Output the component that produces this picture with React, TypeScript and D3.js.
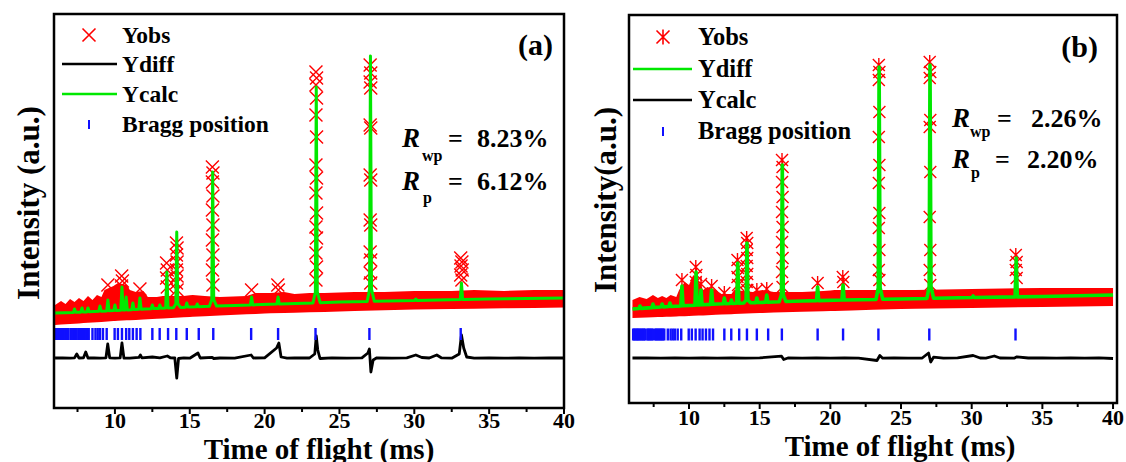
import React from 'react';
import * as d3 from 'd3';

// ---------- shared ----------
const braggTimes = [6.05, 6.12, 6.2, 6.28, 6.35, 6.42, 6.5, 6.58, 6.66, 6.75, 6.82, 6.9, 7.05, 7.12, 7.2, 7.28, 7.36, 7.45, 7.6, 7.68, 7.76, 7.84, 7.92, 8.0, 8.08, 8.16, 8.25, 8.5, 8.7, 8.85, 9.0, 9.2, 9.45, 9.98, 10.2, 10.47, 10.75, 10.96, 11.2, 11.45, 11.7, 12.5, 12.99, 13.55, 14.1, 14.8, 15.6, 16.57, 19.1, 20.9, 23.4, 27.0, 33.1];
const majorTicks = [10, 15, 20, 25, 30, 35, 40];
const minorTicks = [7.5, 12.5, 17.5, 22.5, 27.5, 32.5, 37.5];

// ---------- panel (a) ----------
const bgTimesA = [6, 8, 10, 12, 15, 18, 21, 25, 30, 35, 40];
const bgCalcA = [950, 960, 975, 990, 1010, 1025, 1040, 1060, 1075, 1090, 1100];
const peakTimesA = [7.3, 7.8, 8.2, 9.0, 9.53, 10.0, 10.47, 10.75, 11.2, 11.67, 12.5, 13.0, 13.47, 14.13, 14.8, 15.5, 16.53, 19.13, 20.9, 23.45, 27.07, 30.1, 33.15];
const peakCalcA = [990, 1000, 1000, 1020, 1080, 1030, 1210, 1110, 1050, 1100, 1030, 1030, 1360, 1760, 1050, 1040, 2360, 1110, 1110, 3210, 3520, 1090, 1250];
const bandTopTimesA = [6.0, 6.4, 6.7, 7.0, 7.3, 7.6, 7.9, 8.2, 8.5, 8.8, 9.1, 9.3, 9.9, 10.2, 10.8, 11.0, 11.4, 11.9, 12.2, 12.8, 13.2, 14.6, 15.2, 16.0, 17.0, 18.8, 19.4, 20.4, 21.3, 22.0, 23.0, 24.0, 26.0, 28.0, 30.0, 32.5, 34.0, 36.0, 38.0, 40.0];
const bandTopA = [1030, 1070, 1040, 1090, 1060, 1100, 1070, 1120, 1080, 1130, 1110, 1180, 1220, 1250, 1230, 1180, 1160, 1170, 1110, 1110, 1120, 1120, 1130, 1120, 1110, 1120, 1150, 1150, 1160, 1140, 1150, 1150, 1160, 1160, 1170, 1170, 1180, 1170, 1180, 1180];
const bandBotTimesA = [6, 10, 15, 20, 25, 30, 35, 40];
const bandBotA = [830, 870, 910, 945, 965, 985, 995, 1005];
const obsTimesA = [10.45, 10.5, 10.44, 9.53, 11.67, 13.45, 13.5, 13.45, 13.5, 14.11, 14.15, 14.11, 14.15, 14.11, 14.15, 14.11, 14.15, 16.51, 16.55, 16.51, 16.55, 16.51, 16.55, 16.51, 16.55, 16.51, 16.55, 19.13, 20.88, 20.92, 23.43, 23.47, 23.43, 23.47, 23.43, 23.47, 23.43, 23.47, 23.43, 23.47, 23.43, 23.47, 23.43, 23.47, 23.43, 27.05, 27.09, 27.05, 27.09, 27.05, 27.09, 27.05, 27.09, 27.05, 27.09, 27.05, 27.09, 27.05, 27.09, 33.1, 33.18, 33.12, 33.2, 33.1, 33.18];
const obsValsA = [1320, 1270, 1220, 1230, 1190, 1450, 1380, 1300, 1210, 1650, 1600, 1530, 1460, 1380, 1320, 1250, 1180, 2410, 2350, 2260, 2120, 1980, 1830, 1680, 1530, 1380, 1230, 1180, 1230, 1180, 3360, 3300, 3230, 3100, 2930, 2710, 2430, 2300, 2150, 1950, 1810, 1700, 1550, 1410, 1280, 3430, 3350, 3260, 3200, 2830, 2800, 2330, 2280, 1880, 1830, 1560, 1480, 1350, 1250, 1500, 1460, 1420, 1380, 1330, 1280];
const diffTimesA = [6.0, 6.5, 7.0, 7.3, 7.45, 7.6, 7.9, 8.05, 8.2, 8.6, 9.0, 9.4, 9.52, 9.65, 10.0, 10.35, 10.47, 10.6, 11.0, 11.6, 11.7, 11.8, 12.5, 13.0, 13.5, 13.7, 14.0, 14.13, 14.25, 14.6, 15.0, 15.55, 15.7, 16.5, 16.6, 17.0, 18.0, 19.1, 19.25, 20.0, 20.8, 20.95, 21.1, 21.5, 22.0, 23.0, 23.35, 23.45, 23.55, 23.7, 24.5, 25.5, 26.5, 26.9, 27.0, 27.1, 27.25, 27.5, 28.5, 29.5, 30.1, 30.5, 31.0, 31.5, 31.8, 32.5, 33.0, 33.15, 33.3, 33.5, 34, 35, 36, 37, 38, 39, 40];
const diffValsA = [500, 502, 498, 501, 540, 500, 502, 560, 500, 502, 498, 502, 640, 502, 498, 502, 650, 500, 498, 506, 530, 502, 510, 502, 520, 502, 500, 300, 495, 502, 498, 550, 500, 506, 495, 500, 498, 530, 500, 502, 600, 650, 510, 498, 502, 500, 540, 720, 580, 495, 502, 498, 502, 550, 590, 360, 480, 502, 498, 502, 530, 505, 500, 530, 502, 498, 540, 730, 600, 510, 498, 502, 498, 502, 499, 502, 500];
const braggLevelA = 740;

// ---------- panel (b) ----------
const bgTimesB = [6, 8, 10, 12, 15, 18, 21, 25, 30, 35, 40];
const bgCalcB = [940, 960, 975, 990, 1005, 1020, 1030, 1040, 1055, 1065, 1080];
const peakTimesB = [6.53, 7.45, 8.1, 8.65, 9.5, 10.5, 10.85, 11.6, 12.5, 13.0, 13.45, 14.1, 14.8, 15.5, 16.6, 19.1, 20.9, 23.45, 27.05, 30.1, 33.15];
const peakCalcB = [970, 990, 990, 1000, 1170, 1310, 1130, 1130, 1050, 1030, 1400, 1600, 1050, 1080, 2380, 1160, 1180, 3360, 3380, 1070, 1450];
const bandTopTimesB = [6, 6.5, 7, 7.45, 7.8, 8.1, 8.4, 8.7, 9.1, 9.3, 9.7, 10.0, 10.3, 10.7, 11.0, 11.3, 11.9, 12.3, 13.0, 13.2, 14.5, 15.2, 16.0, 18.0, 19.5, 20.3, 21.5, 23.0, 26.0, 30.0, 35.0, 40.0];
const bandTopB = [1030, 1060, 1040, 1080, 1050, 1070, 1050, 1080, 1060, 1130, 1210, 1180, 1280, 1210, 1130, 1160, 1130, 1090, 1090, 1130, 1110, 1130, 1110, 1110, 1120, 1130, 1130, 1130, 1130, 1140, 1150, 1150];
const bandBotTimesB = [6, 10, 15, 20, 25, 30, 35, 40];
const bandBotB = [850, 870, 900, 920, 940, 950, 960, 970];
const obsTimesB = [9.5, 10.48, 10.52, 10.48, 10.85, 11.6, 12.5, 13.43, 13.47, 13.43, 13.47, 14.08, 14.12, 14.08, 14.12, 14.08, 14.12, 14.08, 14.12, 14.8, 15.5, 16.58, 16.62, 16.58, 16.62, 16.58, 16.62, 16.58, 16.62, 16.58, 16.62, 19.1, 20.88, 20.92, 23.43, 23.47, 23.43, 23.47, 23.43, 23.47, 23.43, 23.47, 23.43, 23.47, 23.43, 23.47, 27.03, 27.07, 27.03, 27.07, 27.03, 27.07, 27.03, 27.07, 27.03, 27.07, 33.12, 33.18, 33.12, 33.18];
const obsValsB = [1230, 1360, 1280, 1210, 1190, 1170, 1100, 1430, 1350, 1260, 1180, 1650, 1600, 1530, 1450, 1370, 1290, 1210, 1130, 1130, 1140, 2430, 2360, 2210, 2060, 1910, 1760, 1610, 1450, 1310, 1160, 1200, 1260, 1210, 3380, 3310, 3230, 2910, 2660, 2380, 2200, 1900, 1750, 1530, 1330, 1230, 3410, 3310, 3250, 2830, 2760, 2310, 1860, 1530, 1330, 1180, 1480, 1410, 1330, 1250];
const diffTimesB = [6, 7, 8, 9, 10, 11, 12, 13, 14, 15, 16.55, 16.7, 17, 18, 19, 20, 21, 22, 23.3, 23.5, 23.7, 24.5, 25.5, 26.5, 26.95, 27.1, 27.3, 28, 29, 30.1, 30.6, 31, 31.6, 32, 33, 33.2, 34, 35, 36, 37, 38, 39, 40];
const diffValsB = [450, 452, 448, 451, 449, 452, 448, 451, 449, 451, 468, 435, 450, 448, 451, 449, 451, 448, 425, 475, 448, 451, 448, 450, 500, 410, 458, 448, 451, 475, 450, 448, 470, 450, 448, 462, 450, 451, 448, 451, 448, 451, 445];
const braggLevelB = 685;

const RED = '#ff0000';
const GREEN = '#00e800';
const BLUE = '#1010ff';
const FONT = "'Liberation Serif', 'Times New Roman', serif";

type Pt = [number, number];

function calcPoints(bgT: number[], bgV: number[], pkT: number[], pkV: number[]): Pt[] {
  const bg = d3.scaleLinear().domain(bgT).range(bgV);
  const pts: Pt[] = [];
  const spans: [number, number][] = [];
  pkT.forEach((p, i) => {
    const T = pkV[i];
    const b0 = bg(p);
    if (T - b0 > 500) {
      pts.push([p - 0.22, bg(p - 0.22)], [p - 0.06, b0 + 0.05 * (T - b0)], [p, T], [p + 0.07, b0 + 0.05 * (T - b0)], [p + 0.26, bg(p + 0.26)]);
      spans.push([p - 0.22, p + 0.26]);
    } else {
      pts.push([p - 0.08, bg(p - 0.08)], [p, T], [p + 0.08, bg(p + 0.08)]);
      spans.push([p - 0.08, p + 0.08]);
    }
  });
  bgT.forEach((t, i) => {
    if (!spans.some(s => t >= s[0] && t <= s[1])) pts.push([t, bgV[i]]);
  });
  pts.sort((a, b) => a[0] - b[0]);
  return pts;
}

type PanelProps = {
  x0: number; x1: number; y0: number; y1: number;
  xDomain: [number, number]; yDomain: [number, number];
  bgT: number[]; bgV: number[]; pkT: number[]; pkV: number[];
  bandTopT: number[]; bandTop: number[]; bandBotT: number[]; bandBot: number[];
  obsT: number[]; obsV: number[];
  diffT: number[]; diffV: number[];
  braggLevel: number;
  star: boolean;
  markSize: number;
  calcWidth: number;
  tickBaseline: number;
  titleX: number; titleBaseline: number;
  yTitle: string; yTitleX: number; yTitleY: number;
  id: string;
};

function marker(s: number, star: boolean) {
  let d = `M${-s},${-s}L${s},${s}M${-s},${s}L${s},${-s}`;
  if (star) d += `M0,${-s - 1}L0,${s + 1}`;
  return d;
}

function Panel(p: PanelProps) {
  const x = d3.scaleLinear().domain(p.xDomain).range([p.x0, p.x1]);
  const y = d3.scaleLinear().domain(p.yDomain).range([p.y1, p.y0]);
  const line = d3.line<Pt>().x(d => x(d[0])).y(d => y(d[1]));
  const topFn = d3.scaleLinear().domain(p.bandTopT).range(p.bandTop);
  const botFn = d3.scaleLinear().domain(p.bandBotT).range(p.bandBot);
  const times = Array.from(new Set([...p.bandTopT, ...p.bandBotT])).sort((a, b) => a - b);
  const area = d3.area<number>().x(t => x(t)).y0(t => y(botFn(t))).y1(t => y(topFn(t)));
  const calc = calcPoints(p.bgT, p.bgV, p.pkT, p.pkV);
  const diff: Pt[] = p.diffT.map((t, i) => [t, p.diffV[i]]);
  const mk = marker(p.markSize, p.star);
  const clipId = 'clip' + p.id;
  return (
    <g>
      <defs>
        <clipPath id={clipId}>
          <rect x={p.x0} y={p.y0} width={p.x1 - p.x0} height={p.y1 - p.y0} />
        </clipPath>
      </defs>
      <g clipPath={`url(#${clipId})`}>
        <path d={area(times) || ''} fill={RED} />
        {p.obsT.map((t, i) => (
          <path key={i} d={mk} transform={`translate(${x(t)},${y(p.obsV[i])})`} stroke={RED} strokeWidth={1.4} fill="none" />
        ))}
        <path d={line(calc) || ''} fill="none" stroke={GREEN} strokeWidth={p.calcWidth} strokeLinejoin="round" />
        <path d={line(diff) || ''} fill="none" stroke="#000" strokeWidth={2.8} strokeLinejoin="round" />
        {braggTimes.map((t, i) => (
          <rect key={i} x={x(t) - 1.2} y={y(p.braggLevel) - 6} width={2.4} height={12} fill={BLUE} />
        ))}
      </g>
      <rect x={p.x0} y={p.y0} width={p.x1 - p.x0} height={p.y1 - p.y0} fill="none" stroke="#000" strokeWidth={2.5} />
      {majorTicks.map(t => (
        <line key={'M' + t} x1={x(t)} x2={x(t)} y1={p.y1} y2={p.y1 + 6} stroke="#000" strokeWidth={2} />
      ))}
      {minorTicks.map(t => (
        <line key={'m' + t} x1={x(t)} x2={x(t)} y1={p.y1} y2={p.y1 + 4} stroke="#000" strokeWidth={2} />
      ))}
      {majorTicks.map(t => (
        <text key={'L' + t} x={x(t)} y={p.tickBaseline} textAnchor="middle" fontSize={22} fontWeight="bold" fontFamily={FONT}>{t}</text>
      ))}
      <text x={p.titleX} y={p.titleBaseline} textAnchor="middle" fontSize={29} fontWeight="bold" fontFamily={FONT}>Time of flight (ms)</text>
      <text transform={`translate(${p.yTitleX},${p.yTitleY}) rotate(-90)`} textAnchor="middle" dominantBaseline="central" fontSize={31} fontWeight="bold" fontFamily={FONT}>{p.yTitle}</text>
    </g>
  );
}

type LegendItem = { label: string; kind: 'x' | 'star' | 'line' | 'bragg'; color: string };

function Legend({ items, mx, lx0, lx1, tx, baselines, fs }: { items: LegendItem[]; mx: number; lx0: number; lx1: number; tx: number; baselines: number[]; fs: number }) {
  return (
    <g>
      {items.map((it, i) => {
        const b = baselines[i];
        const cy = b - 8;
        let sym: React.ReactNode = null;
        if (it.kind === 'x' || it.kind === 'star') sym = <path d={marker(6.5, it.kind === 'star')} transform={`translate(${mx},${cy})`} stroke={it.color} strokeWidth={1.6} fill="none" />;
        else if (it.kind === 'line') sym = <line x1={lx0} x2={lx1} y1={cy} y2={cy} stroke={it.color} strokeWidth={2.6} />;
        else sym = <rect x={mx - 1} y={cy - 4} width={2} height={9} fill={it.color} />;
        return (
          <g key={i}>
            {sym}
            <text x={tx} y={b} fontSize={fs} fontWeight="bold" fontFamily={FONT}>{it.label}</text>
          </g>
        );
      })}
    </g>
  );
}

function RText({ x, xs, xe, xn, b, sub, subDy, val }: { x: number; xs: number; xe: number; xn: number; b: number; sub: string; subDy: number; val: string }) {
  return (
    <g fontFamily={FONT} fontWeight="bold">
      <text x={x} y={b} fontSize={27} fontStyle="italic">R</text>
      <text x={xs} y={b + subDy} fontSize={16}>{sub}</text>
      <text x={xe} y={b} fontSize={26}>=</text>
      <text x={xn} y={b} fontSize={26}>{val}</text>
    </g>
  );
}

export default function App() {
  return (
    <svg width={1126} height={462} style={{ position: 'absolute', left: 0, top: 0, background: '#fff' }}>
      <Panel id="a" x0={54} x1={564} y0={14} y1={408} xDomain={[5.93, 40]} yDomain={[0, 3940]}
        bgT={bgTimesA} bgV={bgCalcA} pkT={peakTimesA} pkV={peakCalcA}
        bandTopT={bandTopTimesA} bandTop={bandTopA} bandBotT={bandBotTimesA} bandBot={bandBotA}
        obsT={obsTimesA} obsV={obsValsA} diffT={diffTimesA} diffV={diffValsA} braggLevel={braggLevelA}
        star={false} markSize={6.5} calcWidth={3} tickBaseline={428} titleX={319} titleBaseline={459}
        yTitle="Intensity (a.u.)" yTitleX={28} yTitleY={203} />
      <Panel id="b" x0={629} x1={1117} y0={15} y1={403} xDomain={[5.755, 40.28]} yDomain={[0, 3880]}
        bgT={bgTimesB} bgV={bgCalcB} pkT={peakTimesB} pkV={peakCalcB}
        bandTopT={bandTopTimesB} bandTop={bandTopB} bandBotT={bandBotTimesB} bandBot={bandBotB}
        obsT={obsTimesB} obsV={obsValsB} diffT={diffTimesB} diffV={diffValsB} braggLevel={braggLevelB}
        star={true} markSize={6} calcWidth={3.6} tickBaseline={425} titleX={900} titleBaseline={456}
        yTitle="Intensity(a.u.)" yTitleX={605} yTitleY={200} />
      <Legend items={[
        { label: 'Yobs', kind: 'x', color: RED },
        { label: 'Ydiff', kind: 'line', color: '#000' },
        { label: 'Ycalc', kind: 'line', color: GREEN },
        { label: 'Bragg position', kind: 'bragg', color: BLUE },
      ]} mx={89} lx0={62} lx1={117} tx={122} baselines={[43, 72, 102, 132]} fs={23.5} />
      <Legend items={[
        { label: 'Yobs', kind: 'star', color: RED },
        { label: 'Ydiff', kind: 'line', color: GREEN },
        { label: 'Ycalc', kind: 'line', color: '#000' },
        { label: 'Bragg position', kind: 'bragg', color: BLUE },
      ]} mx={663} lx0={633} lx1={692} tx={698} baselines={[45, 77, 108, 139]} fs={24.5} />
      <text x={553} y={55} textAnchor="end" fontSize={30} fontWeight="bold" fontFamily={FONT}>(a)</text>
      <text x={1098} y={57} textAnchor="end" fontSize={30} fontWeight="bold" fontFamily={FONT}>(b)</text>
      <RText x={402} xs={422} xe={448} xn={477} b={147} sub="wp" subDy={14} val="8.23%" />
      <RText x={402} xs={423} xe={448} xn={477} b={190} sub="p" subDy={13} val="6.12%" />
      <RText x={952} xs={970} xe={997} xn={1031} b={127} sub="wp" subDy={10} val="2.26%" />
      <RText x={952} xs={971} xe={995} xn={1027} b={168} sub="p" subDy={10} val="2.20%" />
    </svg>
  );
}
